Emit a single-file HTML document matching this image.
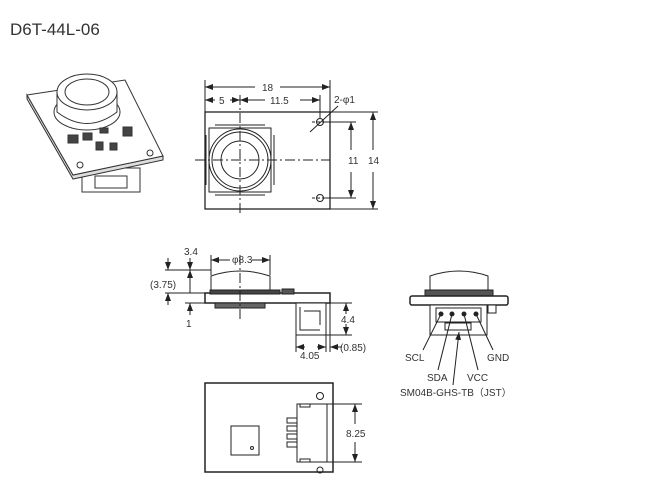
<!DOCTYPE html>
<html><head><style>body{margin:0;background:#fff}svg{display:block}text{font-family:"Liberation Sans",sans-serif;fill:#333}</style></head><body>
<svg width="651" height="493" viewBox="0 0 651 493" xmlns="http://www.w3.org/2000/svg">
<defs><marker id="a" markerWidth="8" markerHeight="6" refX="8" refY="3" orient="auto"><path d="M0,0L8,3L0,6z" fill="#222"/></marker></defs>
<text x="10" y="35" font-size="17" fill="#222">D6T-44L-06</text>
<!-- iso view -->
<g stroke="#333" fill="#fff" stroke-width="1">
<rect x="82" y="168" width="58" height="24"/>
<rect x="95" y="176" width="32" height="12"/>
<polygon points="27,95 27,99 73,179 163,160 163,156 73,175" fill="#ddd"/>
<polygon points="27,95 125,80 163,156 73,175"/>
<ellipse cx="87" cy="112" rx="33" ry="18"/>
<path d="M57,92 L57,112 Q87,135 117,112 L117,92z" fill="#fff"/>
<ellipse cx="87" cy="92" rx="30" ry="18"/>
<ellipse cx="87" cy="92" rx="22" ry="13"/>
<rect x="68" y="135" width="10" height="8" fill="#444"/>
<rect x="83" y="133" width="9" height="7" fill="#444"/>
<rect x="100" y="128" width="8" height="5" fill="#444"/>
<rect x="123" y="127" width="9" height="9" fill="#444"/>
<rect x="96" y="142" width="7" height="8" fill="#444"/>
<rect x="110" y="143" width="7" height="7" fill="#444"/>
<circle cx="80" cy="165" r="3"/><circle cx="150" cy="153" r="3"/>
</g>
<!-- top view -->
<g stroke="#222" fill="none" stroke-width="1">
<rect x="205" y="112" width="125" height="97" fill="#fff" stroke-width="1.3"/>
<path d="M209,128 L271,128 L271,192 L209,192z"/>
<path d="M215,125 L265,125 M215,195 L265,195 M206,135 L206,185 M274,135 L274,185"/>
<circle cx="240" cy="160" r="31"/><circle cx="240" cy="160" r="28"/><circle cx="240" cy="160" r="19"/>
<line x1="240" y1="95" x2="240" y2="215" stroke-dasharray="10,3,2,3"/>
<line x1="195" y1="160" x2="330" y2="160" stroke-dasharray="10,3,2,3"/>
<circle cx="320" cy="122" r="3.5"/><circle cx="320" cy="198" r="3.5"/>
<line x1="312" y1="122" x2="328" y2="122" stroke-dasharray="3,2"/><line x1="312" y1="198" x2="328" y2="198" stroke-dasharray="3,2"/>
<line x1="205" y1="80" x2="205" y2="112"/><line x1="330" y1="80" x2="330" y2="112"/><line x1="320" y1="95" x2="320" y2="118"/>
<line x1="255" y1="87" x2="205" y2="87" marker-end="url(#a)"/><line x1="280" y1="87" x2="330" y2="87" marker-end="url(#a)"/>
<line x1="215" y1="100" x2="205" y2="100" marker-end="url(#a)"/><line x1="230" y1="100" x2="240" y2="100" marker-end="url(#a)"/>
<line x1="265" y1="100" x2="240" y2="100" marker-end="url(#a)"/><line x1="300" y1="100" x2="320" y2="100" marker-end="url(#a)"/>
<line x1="330" y1="112" x2="378" y2="112"/><line x1="330" y1="209" x2="378" y2="209"/>
<line x1="324" y1="122" x2="356" y2="122"/><line x1="324" y1="198" x2="356" y2="198"/>
<line x1="351" y1="150" x2="351" y2="122" marker-end="url(#a)"/><line x1="351" y1="172" x2="351" y2="198" marker-end="url(#a)"/>
<line x1="373" y1="150" x2="373" y2="112" marker-end="url(#a)"/><line x1="373" y1="172" x2="373" y2="209" marker-end="url(#a)"/>
<line x1="310" y1="132" x2="338" y2="106"/>
</g>
<g font-size="10">
<text x="262" y="91">18</text><text x="219" y="104">5</text><text x="270" y="104">11.5</text><text x="334" y="103">2-φ1</text>
<text x="348" y="164">11</text><text x="368" y="164">14</text>
</g>
<!-- side view -->
<g stroke="#222" fill="none" stroke-width="1">
<path d="M211,292 L211,276 Q240,266 270,276 L270,292" fill="#fff"/>
<rect x="205" y="293" width="125" height="10" fill="#fff" stroke-width="1.5"/>
<rect x="210" y="290" width="70" height="4" fill="#444"/>
<rect x="282" y="289" width="12" height="5" fill="#555"/>
<rect x="215" y="303" width="50" height="5" fill="#666"/>
<rect x="296" y="303" width="30" height="32" fill="#fff"/>
<path d="M300,307 L300,330 L320,330 M304,311 L320,311 L320,325"/>
<line x1="240" y1="255" x2="240" y2="320" stroke-dasharray="10,3,2,3"/>
<line x1="211" y1="255" x2="211" y2="275"/><line x1="270" y1="255" x2="270" y2="275"/>
<line x1="230" y1="260" x2="211" y2="260" marker-end="url(#a)"/><line x1="252" y1="260" x2="270" y2="260" marker-end="url(#a)"/>
<line x1="165" y1="270" x2="211" y2="270"/><line x1="165" y1="293" x2="205" y2="293"/><line x1="185" y1="303" x2="205" y2="303"/>
<line x1="168" y1="258" x2="168" y2="270" marker-end="url(#a)"/><line x1="168" y1="305" x2="168" y2="293" marker-end="url(#a)"/>
<line x1="190" y1="258" x2="190" y2="270" marker-end="url(#a)"/><line x1="190" y1="282" x2="190" y2="270" marker-end="url(#a)"/>
<line x1="190" y1="282" x2="190" y2="293"/>
<line x1="190" y1="315" x2="190" y2="303" marker-end="url(#a)"/>
<line x1="326" y1="303" x2="352" y2="303"/><line x1="326" y1="335" x2="352" y2="335"/>
<line x1="346" y1="314" x2="346" y2="303" marker-end="url(#a)"/><line x1="346" y1="324" x2="346" y2="335" marker-end="url(#a)"/>
<line x1="296" y1="335" x2="296" y2="352"/><line x1="326" y1="335" x2="326" y2="352"/><line x1="330" y1="303" x2="330" y2="352"/>
<line x1="305" y1="347" x2="296" y2="347" marker-end="url(#a)"/><line x1="317" y1="347" x2="326" y2="347" marker-end="url(#a)"/>
<line x1="342" y1="347" x2="330" y2="347" marker-end="url(#a)"/>
</g>
<g font-size="10">
<text x="184" y="255">3.4</text><text x="232" y="263">φ8.3</text><text x="150" y="288">(3.75)</text><text x="186" y="327">1</text>
<text x="341" y="323">4.4</text><text x="300" y="359">4.05</text><text x="340" y="351">(0.85)</text>
</g>
<!-- front view -->
<g stroke="#222" fill="none" stroke-width="1">
<path d="M430,292 L430,276 Q459,266 488,276 L488,292" fill="#fff"/>
<rect x="425" y="290" width="68" height="6" fill="#555"/>
<rect x="410" y="296" width="98" height="9" rx="2" fill="#fff" stroke-width="1.5"/>
<rect x="430" y="305" width="57" height="30" fill="#fff"/>
<rect x="436" y="308" width="45" height="14"/>
<rect x="445" y="323" width="26" height="7"/>
<rect x="488" y="305" width="8" height="8" fill="#fff"/>
<circle cx="441" cy="314" r="2" fill="#222"/><circle cx="452" cy="314" r="2" fill="#222"/><circle cx="464" cy="314" r="2" fill="#222"/><circle cx="476" cy="314" r="2" fill="#222"/>
<line x1="423" y1="350" x2="441" y2="314"/><line x1="438" y1="370" x2="452" y2="314"/>
<line x1="478" y1="370" x2="464" y2="314"/><line x1="493" y1="350" x2="476" y2="314"/>
<line x1="453" y1="385" x2="459" y2="332" marker-end="url(#a)"/>
</g>
<g font-size="10">
<text x="405" y="361">SCL</text><text x="487" y="361">GND</text><text x="427" y="381">SDA</text><text x="467" y="381">VCC</text>
<text x="400" y="396">SM04B-GHS-TB（JST）</text>
</g>
<!-- bottom view -->
<g stroke="#222" fill="none" stroke-width="1">
<rect x="205" y="383" width="128" height="89" fill="#fff" stroke-width="1.5"/>
<circle cx="320" cy="396" r="3.5"/><circle cx="320" cy="470" r="3"/>
<rect x="297" y="404" width="30" height="58"/>
<rect x="300" y="404" width="10" height="3"/><rect x="300" y="459" width="10" height="3"/>
<rect x="287" y="418" width="10" height="5"/><rect x="287" y="426" width="10" height="5"/><rect x="287" y="434" width="10" height="5"/><rect x="287" y="442" width="10" height="5"/>
<rect x="231" y="426" width="28" height="29"/>
<circle cx="252" cy="448" r="1.5"/>
<line x1="327" y1="404" x2="362" y2="404"/><line x1="327" y1="462" x2="362" y2="462"/>
<line x1="355" y1="424" x2="355" y2="404" marker-end="url(#a)"/><line x1="355" y1="442" x2="355" y2="462" marker-end="url(#a)"/>
</g>
<text x="346" y="437" font-size="10">8.25</text>
</svg>
</body></html>
